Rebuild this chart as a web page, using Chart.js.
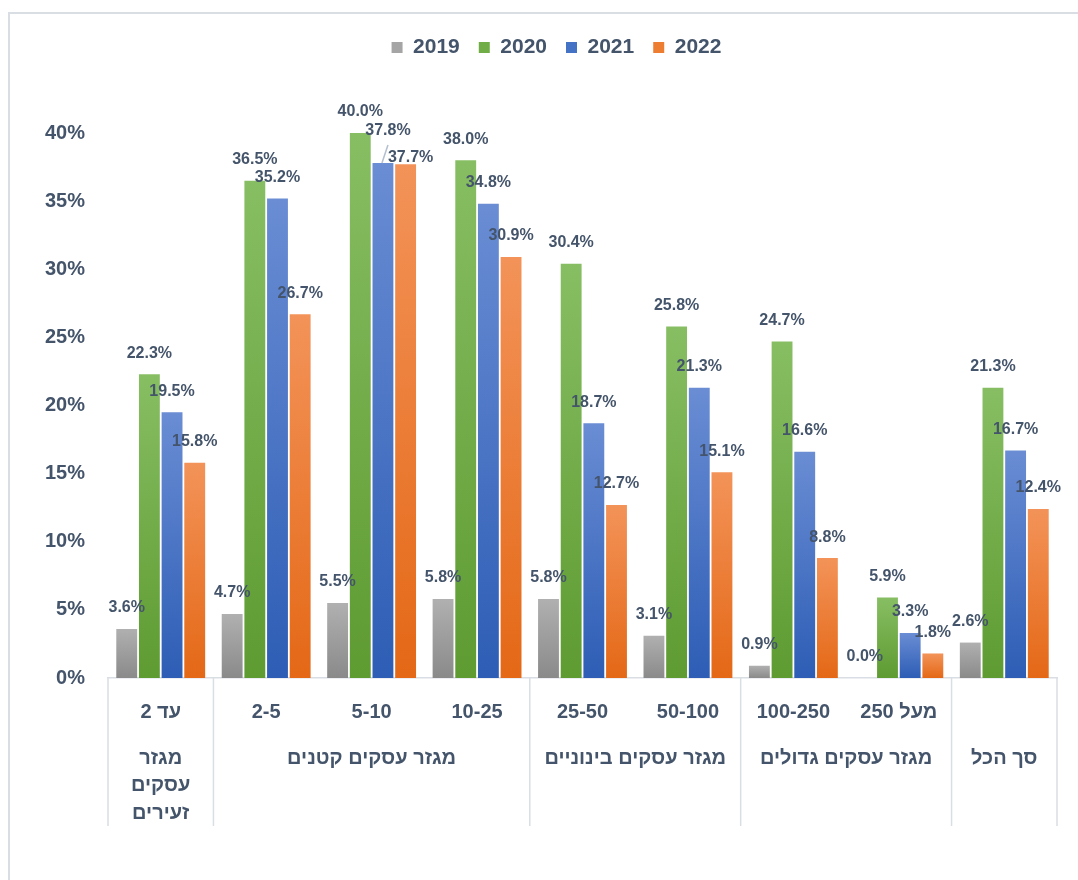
<!DOCTYPE html>
<html lang="he">
<head>
<meta charset="utf-8">
<script src="https://cdn.jsdelivr.net/npm/chart.js@4.4.0/dist/chart.umd.min.js"></script>
<style>
    html, body { margin: 0; padding: 0; background: #fff; }
    #wrap { width: 1078px; height: 880px; position: relative; }
    canvas { direction: rtl; }
</style>
</head>
<body>
<div id="wrap"><canvas id="chart" width="1078" height="880"></canvas></div>
<script>
// --- DATOS ---
const categories = ['עד 2', '2-5', '5-10', '10-25', '25-50', '50-100', '100-250', 'מעל 250', ''];
const groupNames = ['מגזר עסקים זעירים', 'מגזר עסקים קטנים', 'מגזר עסקים בינוניים', 'מגזר עסקים גדולים', 'סך הכל'];
const groupSizes = [1, 3, 2, 2, 1];
const years = ['2019', '2020', '2021', '2022'];
const values2019 = [3.6, 4.7, 5.5, 5.8, 5.8, 3.1, 0.9, 0.0, 2.6];
const values2020 = [22.3, 36.5, 40.0, 38.0, 30.4, 25.8, 24.7, 5.9, 21.3];
const values2021 = [19.5, 35.2, 37.8, 34.8, 18.7, 21.3, 16.6, 3.3, 16.7];
const values2022 = [15.8, 26.7, 37.7, 30.9, 12.7, 15.1, 8.8, 1.8, 12.4];
const yMax = 40, yStep = 5;

// --- ESTILO ---
const TEXT = '#44546A';
const LINE = '#D9DEE5';
const FONT = "'Liberation Sans', 'DejaVu Sans', sans-serif";
const legendColors = ['#A5A5A5', '#70AD47', '#4472C4', '#ED7D31'];
const gradStops = [['#B0B0B0', '#8A8A8A'], ['#87BE63', '#5E9B31'], ['#6A8DD4', '#2D5DB5'], ['#F39359', '#E46816']];

function barGradient(top, bottom) {
    return (c) => {
        const chart = c.chart, y = chart.scales && chart.scales.y;
        if (c.type !== 'data' || !chart.chartArea || !y) return bottom;
        const y0 = y.getPixelForValue(0), y1 = y.getPixelForValue(c.raw);
        if (!isFinite(y1) || Math.abs(y0 - y1) < 1) return bottom;
        const g = chart.ctx.createLinearGradient(0, y1, 0, y0);
        g.addColorStop(0, top);
        g.addColorStop(1, bottom);
        return g;
    };
}

// legend: extra room below it (plot starts at the 40% line) and shifted a bit right
const legendSpacer = {
    id: 'legendSpacer',
    beforeInit(chart) {
        const fit = chart.legend.fit;
        chart.legend.fit = function () {
            fit.bind(chart.legend)();
            this.height = 115;
            if (this.lineWidths) this.lineWidths = this.lineWidths.map(w => w - 56);
        };
    }
};

// frame lines at left / top like the source screenshot
const frame = {
    id: 'frame',
    beforeDraw(chart) {
        const ctx = chart.ctx;
        ctx.save();
        ctx.strokeStyle = LINE;
        ctx.lineWidth = 2;
        ctx.beginPath();
        ctx.moveTo(9, 880); ctx.lineTo(9, 13); ctx.lineTo(1078, 13);
        ctx.stroke();
        ctx.restore();
    }
};

// group labels + separators under the axis
const groupAxis = {
    id: 'groupAxis',
    afterDraw(chart) {
        const ctx = chart.ctx, x = chart.scales.x, area = chart.chartArea;
        const w = (area.right - area.left) / categories.length;
        ctx.save();
        ctx.strokeStyle = LINE;
        ctx.lineWidth = 1.5;
        ctx.font = `bold 20px ${FONT}`;
        ctx.fillStyle = TEXT;
        ctx.textAlign = 'center';
        ctx.textBaseline = 'middle';
        ctx.direction = 'rtl';
        let start = 0;
        groupSizes.forEach((n, g) => {
            const left = x.getPixelForValue(start) - w / 2;
            const right = x.getPixelForValue(start + n - 1) + w / 2;
            ctx.beginPath();
            ctx.moveTo(left, area.bottom); ctx.lineTo(left, 826);
            ctx.stroke();
            if (g === groupSizes.length - 1) {
                ctx.beginPath();
                ctx.moveTo(right, area.bottom); ctx.lineTo(right, 826);
                ctx.stroke();
            }
            // greedy word wrap
            const words = groupNames[g].split(' ');
            const lines = [];
            let cur = '';
            words.forEach(wd => {
                const test = cur ? cur + ' ' + wd : wd;
                if (cur && ctx.measureText(test).width > right - left - 8) { lines.push(cur); cur = wd; }
                else cur = test;
            });
            lines.push(cur);
            lines.forEach((ln, i) => ctx.fillText(ln, (left + right) / 2, 758 + i * 27.5));
            start += n;
        });
        ctx.restore();
    }
};

// value labels above the bars
const valueLabels = {
    id: 'valueLabels',
    afterDatasetsDraw(chart, args, opts) {
        const ctx = chart.ctx;
        ctx.save();
        ctx.font = `bold 16px ${FONT}`;
        ctx.fillStyle = TEXT;
        ctx.textAlign = 'center';
        ctx.textBaseline = 'middle';
        chart.data.datasets.forEach((ds, di) => {
            chart.getDatasetMeta(di).data.forEach((el, i) => {
                const nudge = opts.nudges[di + ':' + i] || [0, 0];
                const lx = el.x + nudge[0], ly = el.y - 21 + nudge[1];
                if (nudge[2]) {
                    ctx.save();
                    ctx.strokeStyle = '#B4C0D0';
                    ctx.lineWidth = 1.5;
                    ctx.beginPath();
                    ctx.moveTo(el.x - 1, el.y);
                    ctx.lineTo(el.x + 5, el.y - 18);
                    ctx.stroke();
                    ctx.restore();
                }
                ctx.fillText(ds.data[i].toFixed(1) + '%', lx, ly);
            });
        });
        ctx.restore();
    }
};

const seriesValues = [values2019, values2020, values2021, values2022];

new Chart(document.getElementById('chart').getContext('2d'), {
    type: 'bar',
    data: {
        labels: categories,
        datasets: years.map((y, i) => ({
            label: y,
            data: seriesValues[i],
            backgroundColor: barGradient(gradStops[i][0], gradStops[i][1]),
            borderWidth: 0,
            categoryPercentage: 0.86,
            barPercentage: 0.92
        }))
    },
    options: {
        responsive: false,
        animation: false,
        layout: { padding: { top: 18, left: 0, right: 21, bottom: 0 } },
        plugins: {
            tooltip: { enabled: false },
            legend: {
                position: 'top',
                labels: {
                    boxWidth: 11, boxHeight: 11, padding: 19,
                    color: TEXT,
                    font: { family: FONT, size: 21, weight: 'bold' },
                    generateLabels: (chart) => chart.data.datasets.map((d, i) => ({
                        text: d.label, fillStyle: legendColors[i], strokeStyle: legendColors[i],
                        lineWidth: 0, hidden: false, datasetIndex: i, fontColor: TEXT
                    }))
                }
            },
            valueLabels: { nudges: { '2:2': [5, -11, true], '3:2': [5, 14] } }
        },
        scales: {
            x: {
                grid: { display: false, drawTicks: false },
                border: { display: true, color: LINE, width: 1.5 },
                ticks: { color: TEXT, padding: 22, maxRotation: 0, autoSkip: false, font: { family: FONT, size: 20, weight: 'bold' } },
                afterFit: (s) => { s.height = 202; }
            },
            y: {
                min: 0, max: yMax,
                grid: { display: false, drawTicks: false },
                border: { display: false },
                ticks: { stepSize: yStep, color: TEXT, padding: 23, callback: v => v + '%', font: { family: FONT, size: 20, weight: 'bold' } },
                afterFit: (s) => { s.width = 108; }
            }
        }
    },
    plugins: [legendSpacer, frame, groupAxis, valueLabels]
});
</script>
</body>
</html>
